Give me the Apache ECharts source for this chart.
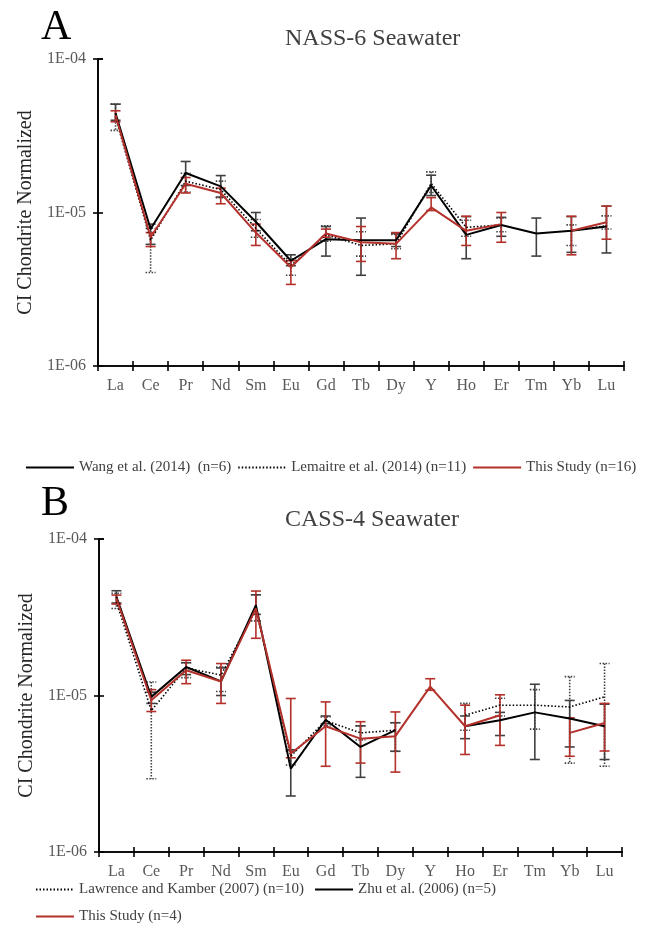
<!DOCTYPE html>
<html>
<head>
<meta charset="utf-8">
<script src="https://cdn.jsdelivr.net/npm/echarts@6/dist/echarts.min.js"></script>
<style>html,body{margin:0;padding:0;background:#fff}#chart{width:650px;height:936px}</style>
</head>
<body>
<div id="chart"></div>
<script>
const elements = ['La', 'Ce', 'Pr', 'Nd', 'Sm', 'Eu', 'Gd', 'Tb', 'Dy', 'Y', 'Ho', 'Er', 'Tm', 'Yb', 'Lu'];
const yTickLabels = ['1E-06', '1E-05', '1E-04'];

// A: NASS-6
const wangMean = [4.43e-5, 7.8e-6, 1.81e-5, 1.48e-5, 8.7e-6, 4.85e-6, 6.7e-6, 6.6e-6, 6.6e-6, 1.5e-5, 7.15e-6, 8.3e-6, 7.3e-6, 7.6e-6, 8.1e-6];
const wangLow = [3.99e-5, 6.2e-6, 1.5e-5, 1.26e-5, 7.6e-6, 4.5e-6, 5.2e-6, 3.9e-6, 6.0e-6, 1.29e-5, 5.0e-6, 7.0e-6, 5.2e-6, 5.5e-6, 5.45e-6];
const wangHigh = [5.08e-5, 8.4e-6, 2.15e-5, 1.74e-5, 1.0e-5, 5.3e-6, 8.1e-6, 9.2e-6, 7.3e-6, 1.75e-5, 9.4e-6, 9.3e-6, 9.2e-6, 9.4e-6, 1.1e-5];

const lemaitreMean = [4.17e-5, 6.6e-6, 1.6e-5, 1.41e-5, 7.9e-6, 4.5e-6, 7.15e-6, 6.1e-6, 6.25e-6, 1.55e-5, 8.0e-6, 8.3e-6, null, 7.6e-6, 8.2e-6];
const lemaitreLow = [3.43e-5, 4.07e-6, 1.36e-5, 1.25e-5, 6.9e-6, 3.9e-6, 6.5e-6, 5.2e-6, 5.8e-6, 1.35e-5, 7.0e-6, 7.5e-6, null, 6.1e-6, 7.8e-6];
const lemaitreHigh = [5.08e-5, 7.9e-6, 1.8e-5, 1.6e-5, 9.0e-6, 5.0e-6, 8.2e-6, 7.5e-6, 7.2e-6, 1.84e-5, 8.9e-6, 9.2e-6, null, 8.3e-6, 9.5e-6];

const studyAMean = [4.3e-5, 6.9e-6, 1.54e-5, 1.34e-5, 7.4e-6, 4.4e-6, 7.3e-6, 6.4e-6, 6.25e-6, 1.08e-5, 7.6e-6, 8.4e-6, null, 7.6e-6, 8.65e-6];
const studyALow = [3.9e-5, 6.0e-6, 1.34e-5, 1.14e-5, 6.1e-6, 3.4e-6, 6.9e-6, 4.8e-6, 5.0e-6, 1.03e-5, 6.1e-6, 6.4e-6, null, 5.3e-6, 6.7e-6];
const studyAHigh = [4.6e-5, 7.4e-6, 1.69e-5, 1.44e-5, 8.4e-6, 4.85e-6, 7.8e-6, 8.1e-6, 7.4e-6, 1.25e-5, 9.46e-6, 1.0e-5, null, 9.46e-6, 1.1e-5];

// B: CASS-4
const zhuMean = [4.27e-5, 9.8e-6, 1.52e-5, 1.23e-5, 3.78e-5, 3.41e-6, 7.0e-6, 4.69e-6, 6.0e-6, null, 6.36e-6, 6.95e-6, 7.8e-6, 7.13e-6, 6.36e-6];
const zhuLow = [3.9e-5, 8.9e-6, 1.36e-5, 1.0e-5, 3.3e-5, 2.28e-6, 6.6e-6, 3.0e-6, 4.4e-6, null, 5.3e-6, 5.55e-6, 3.9e-6, 4.69e-6, 3.9e-6];
const zhuHigh = [4.67e-5, 1.05e-5, 1.62e-5, 1.5e-5, 4.4e-5, 4.5e-6, 7.4e-6, 6.4e-6, 6.7e-6, null, 7.4e-6, 7.8e-6, 1.18e-5, 9.3e-6, 8.8e-6];

const lawrenceMean = [3.97e-5, 8.0e-6, 1.5e-5, 1.35e-5, 3.55e-5, 4.1e-6, 6.9e-6, 5.77e-6, 6.0e-6, null, 7.48e-6, 8.67e-6, 8.67e-6, 8.45e-6, 9.8e-6];
const lawrenceLow = [3.6e-5, 2.94e-6, 1.3e-5, 1.06e-5, 3.0e-5, 3.6e-6, 6.4e-6, 5.2e-6, 4.4e-6, null, 6.0e-6, 7.4e-6, 6.1e-6, 3.7e-6, 3.53e-6];
const lawrenceHigh = [4.5e-5, 1.22e-5, 1.62e-5, 1.52e-5, 4.4e-5, 4.4e-6, 7.3e-6, 6.4e-6, 6.7e-6, null, 8.9e-6, 9.6e-6, 1.09e-5, 1.32e-5, 1.6e-5];

const studyBMean = [4.17e-5, 9.33e-6, 1.45e-5, 1.23e-5, 3.6e-5, 4.26e-6, 6.36e-6, 5.3e-6, 5.5e-6, 1.14e-5, 6.36e-6, 7.48e-6, null, 5.77e-6, 6.68e-6];
const studyBLow = [3.84e-5, 7.9e-6, 1.19e-5, 8.9e-6, 2.32e-5, 4.0e-6, 3.53e-6, 3.7e-6, 3.24e-6, 1.08e-5, 4.2e-6, 4.8e-6, null, 4.09e-6, 4.42e-6];
const studyBHigh = [4.38e-5, 1.09e-5, 1.68e-5, 1.6e-5, 4.65e-5, 9.57e-6, 9.1e-6, 6.8e-6, 7.85e-6, 1.28e-5, 8.67e-6, 1.01e-5, null, 7.2e-6, 8.9e-6];

const FONT = 'Liberation Serif';
const RED = '#b3302b';
const GREY = '#404040';

function errRender(color, dash) {
    return function (params, api) {
        let top = api.coord([api.value(0), api.value(2)]);
        let bot = api.coord([api.value(0), api.value(1)]);
        let w = 5;
        let style = { stroke: color, lineWidth: 1.6, lineDash: dash };
        return {
            type: 'group',
            children: [
                { type: 'line', shape: { x1: top[0], y1: top[1], x2: bot[0], y2: bot[1] }, style: style },
                { type: 'line', shape: { x1: top[0] - w, y1: top[1], x2: top[0] + w, y2: top[1] }, style: style },
                { type: 'line', shape: { x1: bot[0] - w, y1: bot[1], x2: bot[0] + w, y2: bot[1] }, style: style }
            ]
        };
    };
}

function errSeries(id, low, high, axis, color, dash) {
    let data = [];
    low.forEach((v, i) => { if (v != null) data.push([i, v, high[i]]); });
    return {
        type: 'custom', id: id, xAxisIndex: axis, yAxisIndex: axis, z: 2,
        renderItem: errRender(color, dash), encode: { x: 0, y: [1, 2] },
        data: data, silent: true
    };
}

function lineSeries(name, data, axis, color, type, width, z) {
    return {
        name: name, type: 'line', data: data, xAxisIndex: axis, yAxisIndex: axis,
        symbol: 'none', connectNulls: false, z: z, silent: true,
        lineStyle: { color: color, type: type, width: width },
        itemStyle: { color: color }
    };
}

// second copy of each axis only draws the inner half of the crossing ticks
function xAxes(grid, inside) {
    return {
        type: 'category', data: elements, gridIndex: grid, boundaryGap: true, position: 'bottom',
        axisLine: { lineStyle: { color: '#000', width: 1.6 } },
        axisTick: { show: true, inside: inside, length: 5, interval: 0, lineStyle: { color: '#000', width: 1.6 } },
        axisLabel: { show: !inside, interval: 0, margin: 12, fontFamily: FONT, fontSize: 16, color: '#595959' },
        splitLine: { show: false }
    };
}

function yAxes(grid, inside) {
    return {
        type: 'log', logBase: 10, min: 1e-6, max: 1e-4, gridIndex: grid, position: 'left',
        name: inside ? '' : 'CI Chondrite Normalized', nameLocation: 'middle', nameGap: 62, nameRotate: 90,
        nameTextStyle: { fontFamily: FONT, fontSize: 20, color: '#262626' },
        axisLine: { show: true, lineStyle: { color: '#000', width: 1.6 } },
        axisTick: { show: true, inside: inside, length: 5, lineStyle: { color: '#000', width: 1.6 } },
        axisLabel: {
            show: !inside, margin: 12, fontFamily: FONT, fontSize: 16, color: '#595959',
            formatter: v => yTickLabels[Math.round(Math.log10(v)) + 6]
        },
        minorTick: { show: false },
        splitLine: { show: false }
    };
}

const legendText = { fontFamily: FONT, fontSize: 15, color: '#404040' };
const legendBase = { itemHeight: 12, textStyle: legendText, selectedMode: false, itemStyle: { opacity: 0 } };

const chart = echarts.init(document.getElementById('chart'));
chart.setOption({
    animation: false,
    backgroundColor: '#fff',
    title: [
        { text: 'A', left: 36, top: 2, textStyle: { fontFamily: FONT, fontSize: 42, fontWeight: 'normal', color: '#000' } },
        { text: 'NASS-6 Seawater', left: 280, top: 22, textStyle: { fontFamily: FONT, fontSize: 24, fontWeight: 'normal', color: GREY } },
        { text: 'B', left: 36, top: 478, textStyle: { fontFamily: FONT, fontSize: 42, fontWeight: 'normal', color: '#000' } },
        { text: 'CASS-4 Seawater', left: 280, top: 503, textStyle: { fontFamily: FONT, fontSize: 24, fontWeight: 'normal', color: GREY } }
    ],
    legend: [
        Object.assign({ data: ['Wang et al. (2014)  (n=6)', 'Lemaitre et al. (2014) (n=11)', 'This Study (n=16)'],
          left: 20, top: 455, itemWidth: 48, itemGap: 6 }, legendBase),
        Object.assign({ data: ['Lawrence and Kamber (2007) (n=10)', 'Zhu et al. (2006) (n=5)'],
          left: 30, top: 877, itemWidth: 38, itemGap: 10 }, legendBase),
        Object.assign({ data: ['This Study (n=4)'], left: 30, top: 904, itemWidth: 38 }, legendBase)
    ],
    grid: [
        { left: 98, top: 59, width: 526, height: 307 },
        { left: 99, top: 539, width: 523, height: 313 }
    ],
    xAxis: [xAxes(0, false), xAxes(0, true), xAxes(1, false), xAxes(1, true)],
    yAxis: [yAxes(0, false), yAxes(0, true), yAxes(1, false), yAxes(1, true)],
    series: [
        errSeries('eWang', wangLow, wangHigh, 0, GREY, null),
        errSeries('eLem', lemaitreLow, lemaitreHigh, 0, GREY, [1.5, 1.5]),
        errSeries('eStudyA', studyALow, studyAHigh, 0, RED, null),
        lineSeries('Wang et al. (2014)  (n=6)', wangMean, 0, '#000', 'solid', 2, 4),
        lineSeries('Lemaitre et al. (2014) (n=11)', lemaitreMean, 0, '#000', [1.5, 2], 1.6, 4),
        lineSeries('This Study (n=16)', studyAMean, 0, RED, 'solid', 2, 5),

        errSeries('eZhu', zhuLow, zhuHigh, 2, GREY, null),
        errSeries('eLaw', lawrenceLow, lawrenceHigh, 2, GREY, [1.5, 1.5]),
        errSeries('eStudyB', studyBLow, studyBHigh, 2, RED, null),
        lineSeries('Lawrence and Kamber (2007) (n=10)', lawrenceMean, 2, '#000', [1.5, 2], 1.6, 4),
        lineSeries('Zhu et al. (2006) (n=5)', zhuMean, 2, '#000', 'solid', 2, 4),
        lineSeries('This Study (n=4)', studyBMean, 2, RED, 'solid', 2, 5)
    ]
});
</script>
</body>
</html>
